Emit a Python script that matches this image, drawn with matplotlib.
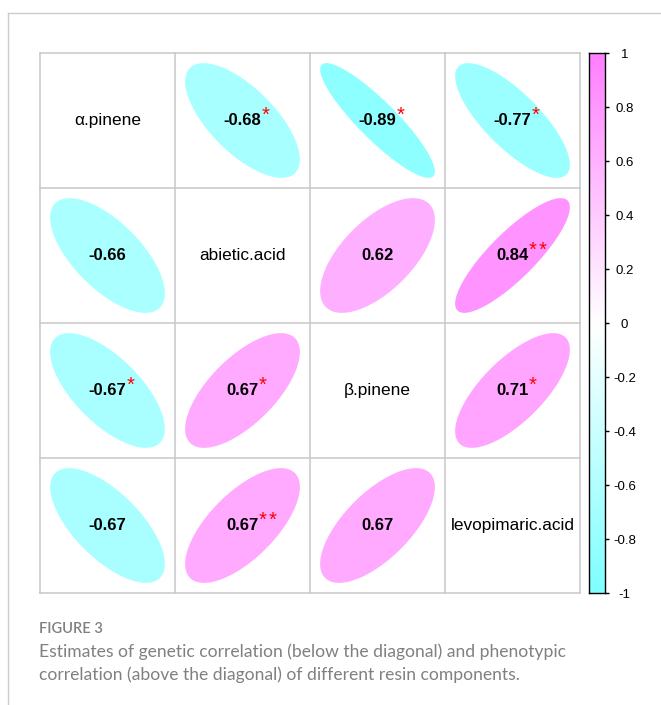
import numpy as np
import matplotlib
matplotlib.use("Agg")
import matplotlib.pyplot as plt
from matplotlib.colors import LinearSegmentedColormap
from matplotlib.lines import Line2D
from matplotlib.patches import Polygon

# Resin components (diagonal labels)
traits = ["α.pinene", "abietic.acid", "β.pinene", "levopimaric.acid"]

# Correlation matrix: genetic below the diagonal, phenotypic above it
corr = [
    [1.00, -0.68, -0.89, -0.77],
    [-0.66, 1.00, 0.62, 0.84],
    [-0.67, 0.67, 1.00, 0.71],
    [-0.67, 0.67, 0.67, 1.00],
]

# Significance marks for each coefficient
signif = [
    ["", "*", "*", "*"],
    ["", "", "", "**"],
    ["*", "*", "", "*"],
    ["", "**", "", ""],
]

cbar_ticks = [-1, -0.8, -0.6, -0.4, -0.2, 0, 0.2, 0.4, 0.6, 0.8, 1]
cbar_labels = ["-1", "-0.8", "-0.6", "-0.4", "-0.2", "0", "0.2", "0.4", "0.6", "0.8", "1"]

cmap = LinearSegmentedColormap.from_list("cyan_white_magenta", ["#7FFFFF", "#FFFFFF", "#FF7FFF"])

W, H = 661, 705
fig = plt.figure(figsize=(W / 100, H / 100), dpi=100)
fig.patch.set_facecolor("white")

FONT = "Liberation Sans"
n = len(traits)

# main correlation grid
ax = fig.add_axes([40 / W, 1 - 593 / H, 540 / W, 540 / H])
ax.set_xlim(0, n)
ax.set_ylim(0, n)
ax.set_axis_off()

grid_col = "#C8C8C8"
for k in range(n + 1):
    ax.plot([k, k], [0, n], color=grid_col, lw=1.1, clip_on=False, zorder=1)
    ax.plot([0, n], [k, k], color=grid_col, lw=1.1, clip_on=False, zorder=1)


def ellipse_xy(rho, length=99):
    t = np.linspace(0, 2 * np.pi, length)
    a = np.arccos(rho) / 2
    x = np.cos(t + a) / 2
    y = np.cos(t - a) / 2
    return 0.85 * np.column_stack([x, y])


for i in range(n):
    for j in range(n):
        cx = j + 0.5
        cy = n - 1 - i + 0.5
        if i == j:
            ax.text(cx, cy, traits[i], ha="center", va="center",
                    fontsize=12.4, family=FONT, color="black", zorder=3)
            continue
        r = corr[i][j]
        pts = ellipse_xy(r) + np.array([cx, cy])
        ax.add_patch(Polygon(pts, closed=True, facecolor=cmap((r + 1) / 2),
                             edgecolor="none", zorder=2))
        num = ax.text(cx, cy, f"{r:.2f}", ha="center", va="center",
                      fontsize=12, fontweight="bold", family=FONT,
                      color="black", zorder=3)
        # significance stars, raised to the upper right of the coefficient
        for s in range(len(signif[i][j])):
            ax.annotate("*", xy=(1, 1), xycoords=num,
                        xytext=(0.3 + 6.8 * s, -2.0), textcoords="offset points",
                        ha="left", va="center", fontsize=14.5, family=FONT,
                        color="#FF0000", zorder=4)

# colour legend
cax = fig.add_axes([589 / W, 1 - 593 / H, 16 / W, 540 / H])
grad = np.linspace(-1, 1, 200).reshape(-1, 1)
cax.imshow(grad, cmap=cmap, vmin=-1, vmax=1, origin="lower",
           extent=[0, 1, -1, 1], aspect="auto")
cax.set_xlim(0, 1)
cax.set_ylim(-1, 1)
cax.set_xticks([])
cax.set_yticks(cbar_ticks)
cax.set_yticklabels(cbar_labels)
cax.tick_params(axis="y", left=False, labelleft=False, right=True, labelright=True,
                length=3, width=1, pad=11, labelsize=9.5, colors="black")
for lab in cax.get_yticklabels():
    lab.set_horizontalalignment("center")
    lab.set_family(FONT)
for sp in cax.spines.values():
    sp.set_color("black")
    sp.set_linewidth(1.0)

# page frame
fig.add_artist(Line2D([8 / W, 8 / W], [0, 1 - 13 / H], transform=fig.transFigure,
                      color="#CCCCCC", lw=1.0))
fig.add_artist(Line2D([8 / W, 1], [1 - 13 / H, 1 - 13 / H], transform=fig.transFigure,
                      color="#CCCCCC", lw=1.0))

# caption
cap_col = "#808080"
fig.text(39 / W, 1 - 629 / H, "FIGURE 3", ha="left", va="center",
         fontsize=10.5, family="Lato", fontweight="semibold", color=cap_col)
fig.text(39 / W, 1 - 652 / H,
         "Estimates of genetic correlation (below the diagonal) and phenotypic",
         ha="left", va="center", fontsize=12.65, family="Lato", color=cap_col)
fig.text(39 / W, 1 - 675 / H,
         "correlation (above the diagonal) of different resin components.",
         ha="left", va="center", fontsize=12.65, family="Lato", color=cap_col)

fig.savefig("out.png", dpi=100, facecolor="white")
